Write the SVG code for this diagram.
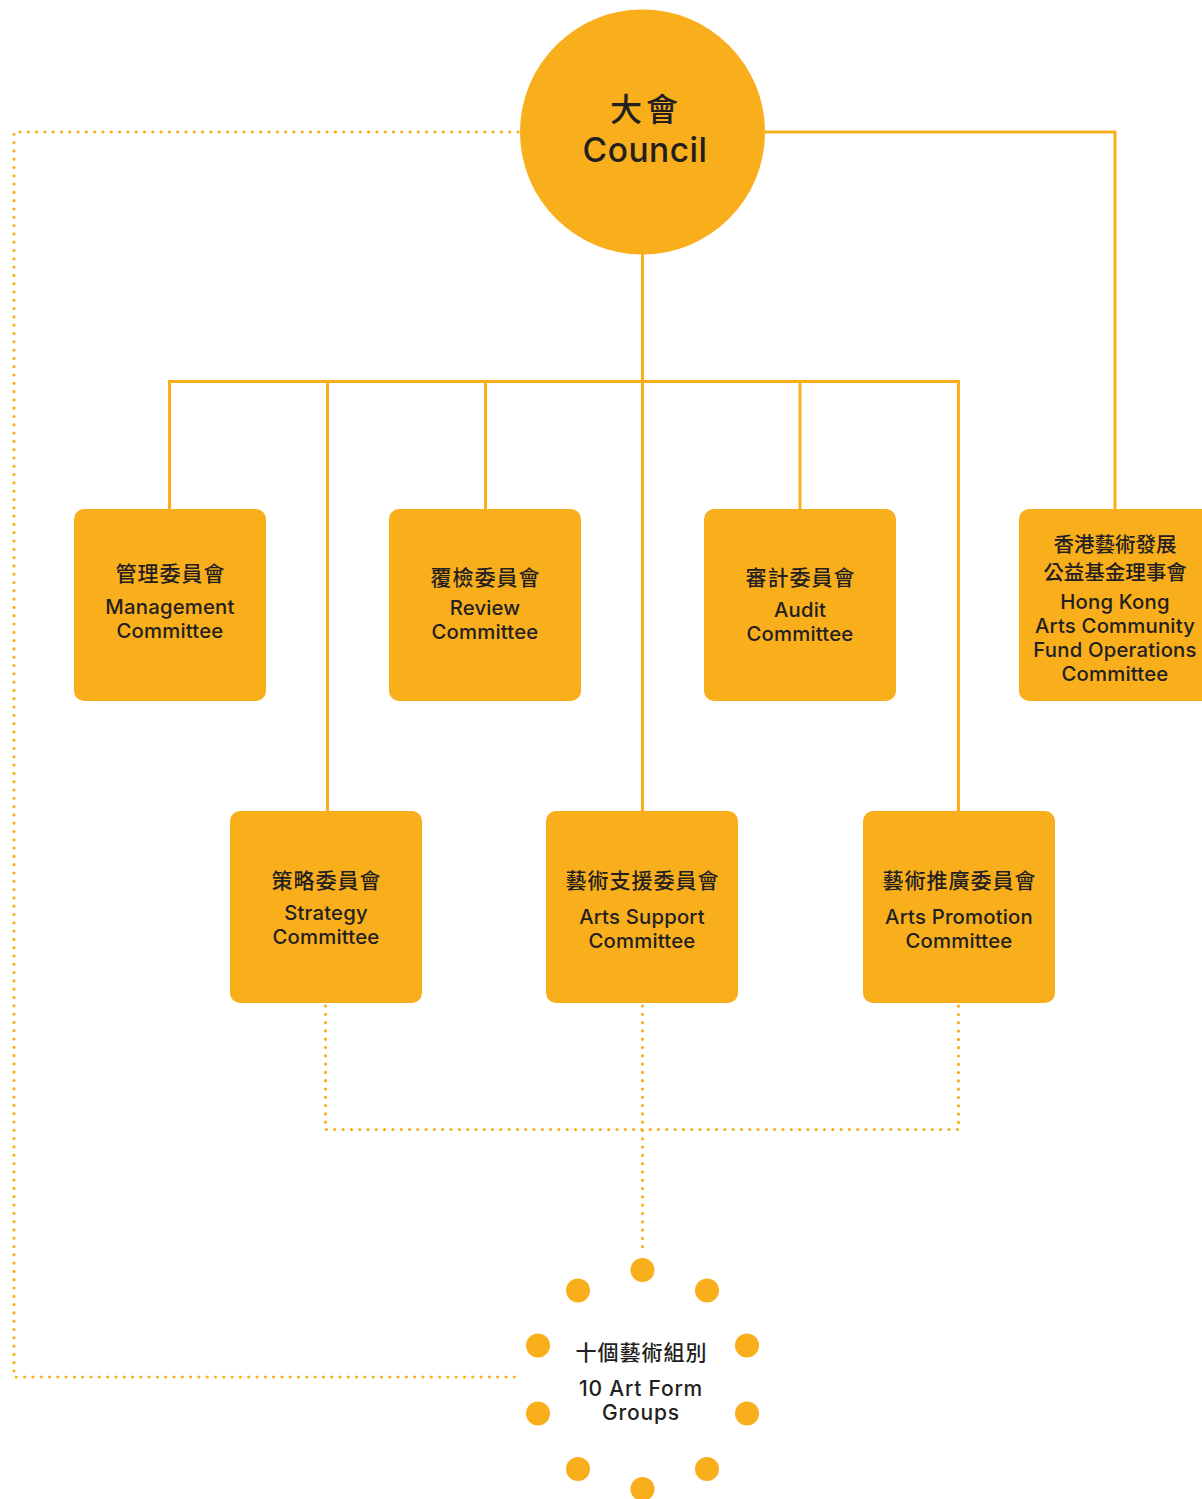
<svg xmlns="http://www.w3.org/2000/svg" width="1202" height="1499" viewBox="0 0 1202 1499">
<style>
.box{fill:#F9AE1C}
.ln{fill:none;stroke:#F9AE1C;stroke-width:3}
.dot{fill:none;stroke:#F9AE1C;stroke-width:3.2;stroke-linecap:round;stroke-dasharray:0 8.3}
.zh{font-family:"Noto Sans CJK TC","Noto Sans CJK SC",sans-serif;font-size:21px;font-weight:500;letter-spacing:1px;fill:#231F20;text-anchor:middle}
.zs{font-family:"Noto Sans CJK TC","Noto Sans CJK SC",sans-serif;font-size:20.5px;font-weight:500;fill:#231F20;text-anchor:middle}
.en{font-family:Inter,"Liberation Sans",sans-serif;font-size:20.3px;font-weight:500;letter-spacing:0.2px;fill:#231F20;text-anchor:middle}
.ring{fill:#F9AE1C}
</style>
<rect width="1202" height="1499" fill="#FFFFFF"/>
<g id="connectors">
<path class="ln" d="M642.5 254 V811"/>
<path class="ln" d="M169.5 509 V381.5 H958.5 V811"/>
<path class="ln" d="M327.5 381.5 V811"/>
<path class="ln" d="M485.5 381.5 V509"/>
<path class="ln" d="M800 381.5 V509"/>
<path class="ln" d="M765 132 H1115 V509"/>
<path class="dot" d="M518 132 H14 V1377 H522"/>
<path class="dot" d="M325.5 1006 V1129.5 H958.5 V1006"/>
<path class="dot" d="M642.5 1006 V1254"/>
</g>
<g id="council">
<circle cx="642.5" cy="132" r="122.5" fill="#F9AE1C"/>
<text x="646" y="121" class="zh" style="font-size:32px;letter-spacing:4px">大會</text>
<text x="645" y="162" class="en" style="font-size:33.5px;letter-spacing:0.5px">Council</text>
</g>
<g id="management">
<rect class="box" x="74" y="509" width="192" height="192" rx="10"/>
<text x="170.5" y="581" class="zh">管理委員會</text>
<text x="170" y="614" class="en">Management</text>
<text x="170" y="638" class="en">Committee</text>
</g>
<g id="review">
<rect class="box" x="389" y="509" width="192" height="192" rx="10"/>
<text x="485.5" y="585" class="zh">覆檢委員會</text>
<text x="485" y="615" class="en">Review</text>
<text x="485" y="639" class="en">Committee</text>
</g>
<g id="audit">
<rect class="box" x="704" y="509" width="192" height="192" rx="10"/>
<text x="800.5" y="585" class="zh">審計委員會</text>
<text x="800" y="617" class="en">Audit</text>
<text x="800" y="641" class="en">Committee</text>
</g>
<g id="hkacf">
<rect class="box" x="1019" y="509" width="200" height="192" rx="10"/>
<text x="1115" y="552" class="zs">香港藝術發展</text>
<text x="1115" y="580" class="zs">公益基金理事會</text>
<text x="1115" y="609" class="en">Hong Kong</text>
<text x="1115" y="633" class="en">Arts Community</text>
<text x="1115" y="657" class="en">Fund Operations</text>
<text x="1115" y="681" class="en">Committee</text>
</g>
<g id="strategy">
<rect class="box" x="230" y="811" width="192" height="192" rx="10"/>
<text x="326.5" y="888" class="zh">策略委員會</text>
<text x="326" y="920" class="en">Strategy</text>
<text x="326" y="944" class="en">Committee</text>
</g>
<g id="artssupport">
<rect class="box" x="546" y="811" width="192" height="192" rx="10"/>
<text x="642.5" y="888" class="zh">藝術支援委員會</text>
<text x="642" y="924" class="en">Arts Support</text>
<text x="642" y="948" class="en">Committee</text>
</g>
<g id="artspromotion">
<rect class="box" x="863" y="811" width="192" height="192" rx="10"/>
<text x="959.5" y="888" class="zh">藝術推廣委員會</text>
<text x="959" y="924" class="en">Arts Promotion</text>
<text x="959" y="948" class="en">Committee</text>
</g>
<g id="artformgroups">
<circle class="ring" cx="642.5" cy="1270" r="12"/>
<circle class="ring" cx="578" cy="1290.5" r="12"/>
<circle class="ring" cx="707" cy="1290.5" r="12"/>
<circle class="ring" cx="538" cy="1345.5" r="12"/>
<circle class="ring" cx="747" cy="1345.5" r="12"/>
<circle class="ring" cx="538" cy="1413.5" r="12"/>
<circle class="ring" cx="747" cy="1413.5" r="12"/>
<circle class="ring" cx="578" cy="1469" r="12"/>
<circle class="ring" cx="707" cy="1469" r="12"/>
<circle class="ring" cx="642.5" cy="1489" r="12"/>
<text x="641.5" y="1360" class="zh" style="font-size:21px">十個藝術組別</text>
<text x="641" y="1396" class="en" style="font-size:21px;letter-spacing:0.8px">10 Art Form</text>
<text x="641" y="1420" class="en" style="font-size:21px;letter-spacing:0.8px">Groups</text>
</g>
</svg>
